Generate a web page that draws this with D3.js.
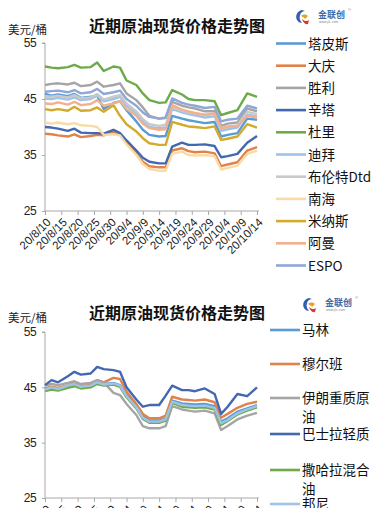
<!DOCTYPE html>
<html><head><meta charset="utf-8">
<script src="https://cdn.jsdelivr.net/npm/d3@7"></script>
<style>body{margin:0;background:#fff}svg{display:block}</style>
</head><body><svg id="c" width="378" height="508"></svg>
<script>
// ---------- DATA ----------
const dates = ["2020-08-10","2020-08-12","2020-08-14","2020-08-17","2020-08-19","2020-08-21","2020-08-24","2020-08-26","2020-08-28","2020-08-31","2020-09-02","2020-09-04","2020-09-07","2020-09-09","2020-09-11","2020-09-14","2020-09-16","2020-09-18","2020-09-21","2020-09-23","2020-09-25","2020-09-28","2020-10-01","2020-10-03","2020-10-05","2020-10-08","2020-10-11","2020-10-14"];
const xTickDates = ["2020-08-10","2020-08-15","2020-08-20","2020-08-25","2020-08-30","2020-09-04","2020-09-09","2020-09-14","2020-09-19","2020-09-24","2020-09-29","2020-10-04","2020-10-09","2020-10-14"];
const yTicks = [25,35,45,55];
const titleText = "近期原油现货价格走势图";
const unitText = "美元/桶";

// top chart series
const topNames = ["塔皮斯","大庆","胜利","辛塔","杜里","迪拜","布伦特Dtd","南海","米纳斯","阿曼","ESPO"];
const tapis  = [45.9,45.6,45.8,45.5,45.9,45.2,45.4,45.6,43.2,44.3,44.6,43.0,41.0,39.5,38.6,38.3,38.4,42.0,41.5,41.2,41.0,40.7,40.9,38.3,38.6,38.9,41.5,41.3];
const daqing = [38.8,38.7,38.5,38.3,38.7,38.2,38.4,38.6,38.5,39.1,38.6,37.2,35.3,33.8,33.0,32.8,32.8,35.8,36.2,35.7,35.5,35.6,35.3,33.0,33.3,33.7,35.8,36.4];
const shengli= [47.5,47.7,47.8,47.6,47.9,47.3,47.5,48.1,47.2,47.5,47.8,46.0,44.8,43.5,42.0,41.5,41.6,44.5,43.8,43.5,43.3,42.8,42.8,40.2,40.6,40.8,43.3,42.8];
const cinta  = [40.0,39.9,39.7,39.3,39.7,39.0,38.9,38.9,38.8,39.5,38.9,37.6,35.8,34.5,33.8,33.5,33.5,36.5,37.2,36.8,36.8,36.9,36.6,34.6,34.8,35.2,37.2,38.4];
const duri   = [50.8,50.6,50.5,50.7,51.1,50.6,50.7,51.5,50.0,50.8,50.6,48.3,47.5,46.0,44.8,44.3,44.4,46.6,45.8,45.0,44.8,44.8,44.6,42.1,42.5,43.0,46.0,45.4];
const dubai  = [45.1,45.0,45.2,44.9,45.3,44.8,45.0,45.6,44.6,45.0,45.4,43.8,42.5,41.0,40.0,39.8,39.9,43.2,42.6,42.3,42.1,41.7,41.9,39.3,39.6,39.9,42.2,41.9];
const brent  = [45.5,45.4,45.6,45.3,45.7,45.1,45.3,45.9,44.9,45.4,45.7,44.2,42.8,41.4,40.5,40.2,40.4,43.5,42.9,42.6,42.4,42.1,42.3,39.7,40.1,40.3,42.7,42.3];
const nanhai = [40.8,40.6,40.8,40.5,40.7,40.3,40.2,40.0,38.6,38.7,38.5,36.9,35.0,33.4,32.5,32.2,32.2,35.2,35.6,35.0,34.9,35.0,34.8,32.4,32.7,33.1,35.2,35.8];
const minas  = [43.2,43.0,43.2,42.9,43.6,42.9,43.0,43.5,42.7,43.9,42.0,40.5,39.2,38.0,37.1,36.8,36.8,40.9,40.4,40.1,40.0,39.8,40.1,37.7,37.9,38.3,40.5,39.9];
const oman   = [44.2,44.1,44.4,44.0,44.5,43.9,44.1,44.8,43.8,44.2,44.6,43.2,42.0,40.6,39.8,39.5,39.6,43.9,43.1,42.8,42.5,42.2,42.4,39.8,40.0,40.2,42.0,41.7];
const espo   = [46.3,46.4,46.5,46.2,46.6,46.0,46.2,46.8,45.9,46.2,46.5,45.0,43.8,42.6,41.8,41.5,41.7,45.1,44.3,44.0,43.8,43.4,43.6,41.0,41.3,41.5,43.8,43.3];
const topColors = ["#5B9BD5","#E0824A","#A5A5A5","#4468B0","#6FAA4A","#9DC3E6","#C9C9C9","#F8DBA6","#D2AA2E","#F2B08E","#8FA7D8"];

// bottom chart series
const botNames = ["马林","穆尔班","伊朗重质原油","巴士拉轻质","撒哈拉混合油","邦尼"];
const marine  = [44.5,44.9,44.6,45.2,45.5,45.0,45.2,46.0,45.6,45.8,45.4,43.6,41.6,39.8,39.0,39.0,39.4,42.6,42.1,42.0,41.9,42.0,41.6,38.8,39.4,40.6,41.2,41.8];
const murban  = [44.8,45.1,44.9,45.4,45.8,45.2,45.5,46.3,45.9,46.7,46.5,44.2,42.0,40.2,39.4,39.4,39.9,43.3,42.8,42.7,42.6,42.8,42.3,39.5,40.2,41.3,42.0,42.4];
const iranHv  = [45.3,45.6,45.4,45.8,46.1,45.6,45.8,46.3,45.9,44.0,43.6,42.0,40.0,38.0,37.6,37.6,38.0,41.6,41.0,40.8,40.6,40.8,40.3,37.3,38.0,39.2,39.9,40.4];
const basrah  = [45.4,46.3,45.9,47.0,47.8,47.3,47.5,48.7,48.3,48.1,47.8,45.0,42.8,41.5,41.8,41.8,43.5,45.3,44.5,44.5,44.3,44.8,43.8,40.2,41.5,43.8,43.4,45.0];
const saharan = [44.3,44.6,44.4,44.9,45.2,44.8,45.0,45.6,45.3,45.5,45.1,43.2,41.2,39.3,38.6,38.6,39.0,42.2,41.5,41.4,41.3,41.4,41.0,38.2,38.9,40.1,40.8,41.4];
const bonny   = [44.6,45.0,44.7,45.3,45.6,45.1,45.3,45.9,45.5,45.7,45.3,43.4,41.4,39.5,38.8,38.8,39.2,42.4,41.8,41.7,41.6,41.7,41.3,38.5,39.1,40.3,41.0,41.6];
const botColors = ["#5B9BD5","#E0824A","#A5A5A5","#4468B0","#6FAA4A","#9DC3E6"];

// ---------- DRAW ----------
const parse = d3.timeParse("%Y-%m-%d");
const fmt = d3.timeFormat("%y/%-m/%-d");
const svg = d3.select("#c");
const CJK = "'Noto Sans CJK SC','Noto Sans',sans-serif";
const NUM = "'Liberation Sans',Arial,sans-serif";

function drawLogo(x, y) {
  const g = svg.append("g").attr("transform", `translate(${x},${y})`);
  g.append("path").attr("d","M7,1 C2,2 0,7 2,11 C3,13 5,14 7,14 C5,12 4,9 5,6 C6,3 8,2 10,2 Z").attr("fill","#2f5fb3");
  g.append("path").attr("d","M6,7 C8,5 11,5 13,7 L10,10 C9,8 7,8 6,7 Z").attr("fill","#e8a020");
  g.append("path").attr("d","M7,10 C9,12 12,13 14,11 L13,15 C10,16 8,13 7,10 Z").attr("fill","#d63a2a");
  g.append("text").attr("x",23).attr("y",9).text("金联创")
    .attr("font-family",CJK).attr("font-size",9).attr("font-weight","bold").attr("fill","#3f6aa8");
  g.append("text").attr("x",24).attr("y",14).text("www.jlc.com")
    .attr("font-family",NUM).attr("font-size",3.5).attr("fill","#888");
  g.append("text").attr("x",53).attr("y",2).text("®")
    .attr("font-family",NUM).attr("font-size",4).attr("fill","#888");
}

function drawChart(cfg) {
  const x = d3.scaleTime().domain([parse(xTickDates[0]), parse(xTickDates[xTickDates.length-1])]).range([cfg.x0, cfg.x1]);
  const y = d3.scaleLinear().domain([25,55]).range([cfg.yb, cfg.yt]);

  svg.append("text").attr("x",177).attr("y",cfg.titleY).attr("text-anchor","middle")
    .attr("font-family",CJK).attr("font-size",16).attr("font-weight","bold").attr("fill","#111").text(titleText);
  svg.append("text").attr("x",8).attr("y",cfg.unitY)
    .attr("font-family",CJK).attr("font-size",11.5).attr("fill","#222").text(unitText);

  // y axis
  const ya = svg.append("g").attr("transform",`translate(${cfg.x0},0)`)
    .call(d3.axisLeft(y).tickValues(yTicks).tickSize(3).tickPadding(6));
  ya.select(".domain").attr("stroke","#a8a8a8").attr("d",`M-3,${cfg.yt}H0V${cfg.yb}`);
  ya.selectAll(".tick line").attr("stroke","#a8a8a8");
  ya.selectAll(".tick text").attr("font-family",NUM).attr("font-size",12).attr("fill","#222").attr("letter-spacing","-0.6");

  // x axis
  const xa = svg.append("g").attr("transform",`translate(0,${cfg.yb})`)
    .call(d3.axisBottom(x).tickValues(xTickDates.map(parse)).tickSize(4).tickFormat(fmt));
  xa.select(".domain").attr("stroke","#a8a8a8").attr("d",`M${cfg.x0},0H${cfg.x1+2}`);
  xa.selectAll(".tick line").attr("stroke","#a8a8a8");
  xa.selectAll(".tick text").attr("font-family",NUM).attr("font-size",11.5).attr("fill","#222")
    .attr("text-anchor","end").attr("dy",null).attr("y",0)
    .attr("transform","translate(6,12) rotate(-45)");

  // lines
  const dd = dates.map(parse);
  const line = d3.line().x((d,i)=>x(dd[i])).y(d=>y(d));
  cfg.series.forEach((s,i)=>{
    svg.append("path").attr("d",line(s)).attr("fill","none")
      .attr("stroke",cfg.colors[i]).attr("stroke-width",2.4).attr("stroke-linejoin","round");
  });

  // legend
  cfg.names.forEach((n,i)=>{
    const ly = cfg.legY[i];
    svg.append("line").attr("x1",cfg.legX).attr("x2",cfg.legX+30).attr("y1",ly).attr("y2",ly)
      .attr("stroke",cfg.colors[i]).attr("stroke-width",2.6);
    const parts = cfg.wrap && n.length > 5 ? [n.slice(0,5), n.slice(5)] : [n];
    parts.forEach((p,k)=>{
      svg.append("text").attr("x",cfg.legX+32).attr("y",ly+5+k*18.5)
        .attr("font-family",CJK).attr("font-size",13.5).attr("fill","#111").text(p);
    });
  });
  drawLogo(cfg.logoX, cfg.logoY);
}

drawChart({
  x0:45, x1:257, yt:43, yb:211, titleY:32, unitY:34,
  series:[tapis,daqing,shengli,cinta,duri,dubai,brent,nanhai,minas,oman,espo],
  colors:topColors, names:topNames,
  legX:276, legY:topNames.map((d,i)=>43.5+i*22.2), wrap:false,
  logoX:295, logoY:9
});
drawChart({
  x0:45, x1:257, yt:332, yb:498, titleY:319, unitY:322,
  series:[marine,murban,iranHv,basrah,saharan,bonny],
  colors:botColors, names:botNames,
  legX:270, legY:[330,364,398,434,470,504], wrap:true,
  logoX:302, logoY:297
});
</script></body></html>
